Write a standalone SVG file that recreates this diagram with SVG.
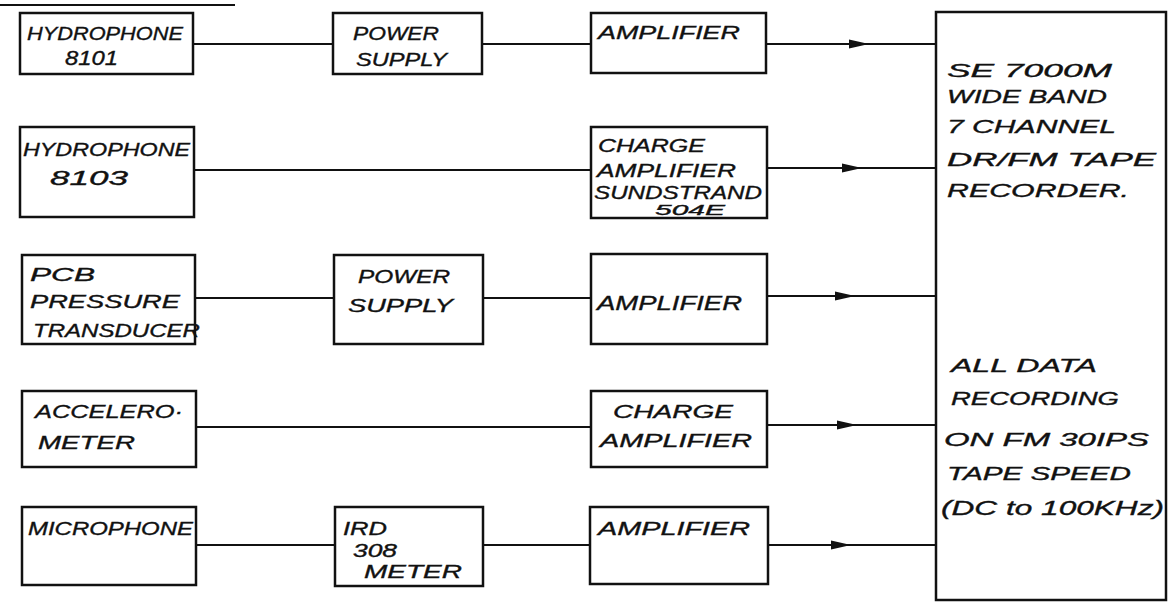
<svg xmlns="http://www.w3.org/2000/svg" width="1169" height="605" viewBox="0 0 1169 605">
<style>
.box{fill:#fff;stroke:#111;stroke-width:2.5}
.ln{fill:none;stroke:#111;stroke-width:2}
.t{font-family:"Liberation Sans",Arial,sans-serif;font-style:italic;font-size:18px;fill:#111;stroke:#111;stroke-width:0.35}
.n{font-size:20px}
.s{font-size:15px}
.b{font-size:20px}
</style>
<defs>
<marker id="ah" markerUnits="userSpaceOnUse" markerWidth="22" markerHeight="12" refX="10" refY="5" orient="auto">
<path d="M0,0.5 L20,5 L0,9.5 z" fill="#111"/>
</marker>
</defs>
<rect width="1169" height="605" fill="#fff"/>
<line x1="0" y1="5" x2="235" y2="5" class="ln"/>

<g id="connectors">
<path class="ln" d="M193,44 H333"/>
<path class="ln" d="M482,44 H591"/>
<path class="ln" d="M766,44 L859,44 L936,44" marker-mid="url(#ah)"/>
<path class="ln" d="M194,170 H591"/>
<path class="ln" d="M767,168 L852,168 L936,168" marker-mid="url(#ah)"/>
<path class="ln" d="M195,298 H334"/>
<path class="ln" d="M483,298 H591"/>
<path class="ln" d="M767,296 L845,296 L936,296" marker-mid="url(#ah)"/>
<path class="ln" d="M196,427 H591"/>
<path class="ln" d="M767,425 L847,425 L936,425" marker-mid="url(#ah)"/>
<path class="ln" d="M196,545 H335"/>
<path class="ln" d="M483,545 H590"/>
<path class="ln" d="M768,545 L841,545 L936,545" marker-mid="url(#ah)"/>
</g>

<g id="hydrophone8101">
<rect class="box" x="20" y="13" width="173" height="61"/>
<text class="t" x="27" y="40" textLength="156" lengthAdjust="spacingAndGlyphs">HYDROPHONE</text>
<text class="t n" x="65" y="65" textLength="53" lengthAdjust="spacingAndGlyphs">8101</text>
</g>
<g id="powersupply1">
<rect class="box" x="333" y="13" width="149" height="61"/>
<text class="t" x="353" y="40" textLength="86" lengthAdjust="spacingAndGlyphs">POWER</text>
<text class="t" x="356" y="66" textLength="91" lengthAdjust="spacingAndGlyphs">SUPPLY</text>
</g>
<g id="amplifier1">
<rect class="box" x="591" y="13" width="175" height="60"/>
<text class="t" x="598" y="39" textLength="142" lengthAdjust="spacingAndGlyphs">AMPLIFIER</text>
</g>

<g id="hydrophone8103">
<rect class="box" x="20" y="127" width="174" height="90"/>
<text class="t" x="23" y="156" textLength="167" lengthAdjust="spacingAndGlyphs">HYDROPHONE</text>
<text class="t n" x="50" y="185" textLength="78" lengthAdjust="spacingAndGlyphs">8103</text>
</g>
<g id="chargeamp1">
<rect class="box" x="591" y="127" width="176" height="91"/>
<text class="t" x="598" y="152" textLength="107" lengthAdjust="spacingAndGlyphs">CHARGE</text>
<text class="t" x="597" y="177" textLength="139" lengthAdjust="spacingAndGlyphs">AMPLIFIER</text>
<text class="t" x="594" y="199" textLength="168" lengthAdjust="spacingAndGlyphs">SUNDSTRAND</text>
<text class="t s" x="655" y="215" textLength="70" lengthAdjust="spacingAndGlyphs">504E</text>
</g>

<g id="pcb">
<rect class="box" x="22" y="255" width="173" height="89"/>
<text class="t" x="30" y="281" textLength="65" lengthAdjust="spacingAndGlyphs">PCB</text>
<text class="t" x="30" y="308" textLength="150" lengthAdjust="spacingAndGlyphs">PRESSURE</text>
<text class="t" x="33" y="337" textLength="167" lengthAdjust="spacingAndGlyphs">TRANSDUCER</text>
</g>
<g id="powersupply2">
<rect class="box" x="334" y="255" width="149" height="89"/>
<text class="t" x="358" y="283" textLength="92" lengthAdjust="spacingAndGlyphs">POWER</text>
<text class="t" x="348" y="312" textLength="105" lengthAdjust="spacingAndGlyphs">SUPPLY</text>
</g>
<g id="amplifier3">
<rect class="box" x="591" y="254" width="176" height="90"/>
<text class="t b" x="597" y="310" textLength="145" lengthAdjust="spacingAndGlyphs">AMPLIFIER</text>
</g>

<g id="accelerometer">
<rect class="box" x="22" y="391" width="174" height="76"/>
<text class="t" x="35" y="418" textLength="148" lengthAdjust="spacingAndGlyphs">ACCELERO·</text>
<text class="t" x="38" y="449" textLength="97" lengthAdjust="spacingAndGlyphs">METER</text>
</g>
<g id="chargeamp2">
<rect class="box" x="591" y="391" width="176" height="76"/>
<text class="t" x="613" y="418" textLength="120" lengthAdjust="spacingAndGlyphs">CHARGE</text>
<text class="t" x="600" y="447" textLength="152" lengthAdjust="spacingAndGlyphs">AMPLIFIER</text>
</g>

<g id="microphone">
<rect class="box" x="22" y="507" width="174" height="78"/>
<text class="t" x="28" y="535" textLength="165" lengthAdjust="spacingAndGlyphs">MICROPHONE</text>
</g>
<g id="ird308">
<rect class="box" x="335" y="507" width="148" height="79"/>
<text class="t" x="343" y="535" textLength="44" lengthAdjust="spacingAndGlyphs">IRD</text>
<text class="t" x="353" y="557" textLength="44" lengthAdjust="spacingAndGlyphs">308</text>
<text class="t" x="364" y="578" textLength="98" lengthAdjust="spacingAndGlyphs">METER</text>
</g>
<g id="amplifier5">
<rect class="box" x="590" y="507" width="178" height="77"/>
<text class="t" x="598" y="535" textLength="152" lengthAdjust="spacingAndGlyphs">AMPLIFIER</text>
</g>

<g id="recorder">
<rect class="box" x="936" y="12" width="230" height="588"/>
<text class="t" x="947" y="77" textLength="165" lengthAdjust="spacingAndGlyphs">SE 7000M</text>
<text class="t" x="947" y="103" textLength="160" lengthAdjust="spacingAndGlyphs">WIDE BAND</text>
<text class="t" x="947" y="133" textLength="169" lengthAdjust="spacingAndGlyphs">7 CHANNEL</text>
<text class="t" x="947" y="166" textLength="209" lengthAdjust="spacingAndGlyphs">DR/FM TAPE</text>
<text class="t" x="947" y="197" textLength="182" lengthAdjust="spacingAndGlyphs">RECORDER.</text>
<text class="t" x="951" y="372" textLength="146" lengthAdjust="spacingAndGlyphs">ALL DATA</text>
<text class="t" x="951" y="405" textLength="168" lengthAdjust="spacingAndGlyphs">RECORDING</text>
<text class="t" x="944" y="446" textLength="205" lengthAdjust="spacingAndGlyphs">ON FM 30IPS</text>
<text class="t" x="947" y="480" textLength="184" lengthAdjust="spacingAndGlyphs">TAPE SPEED</text>
<text class="t b" x="941" y="515" textLength="223" lengthAdjust="spacingAndGlyphs">(DC to 100KHz)</text>
</g>
</svg>
